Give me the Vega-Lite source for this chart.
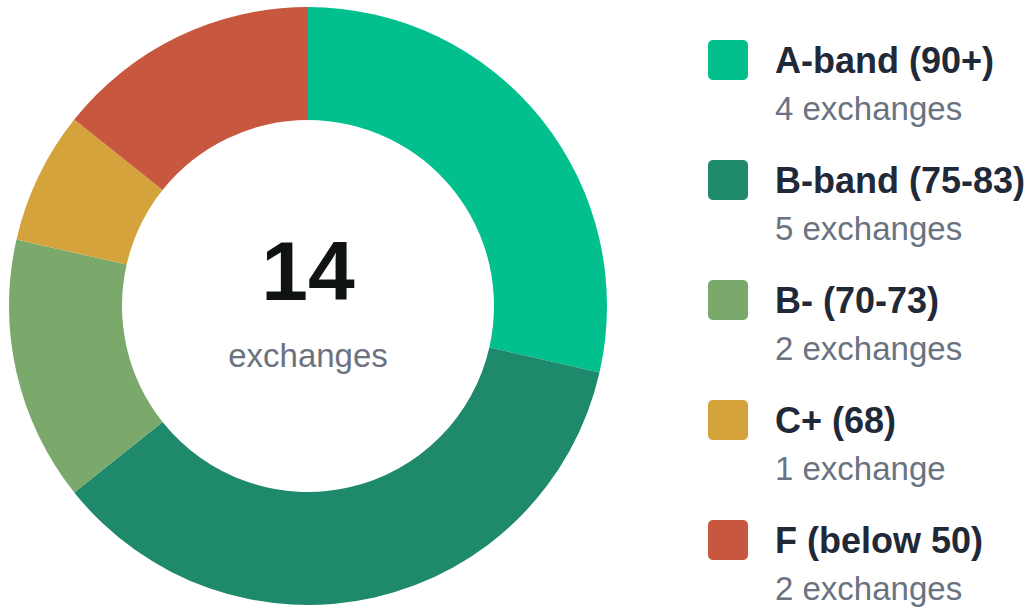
{
  "$schema": "https://vega.github.io/schema/vega-lite/v6.json",
  "padding": 0,
  "background": "white",
  "config": {"view": {"stroke": null}, "font": "Liberation Sans"},
  "datasets": {
    "bands": [
      {"band": "A-band (90+)", "count": 4, "sub": "4 exchanges", "ord": 1},
      {"band": "B-band (75-83)", "count": 5, "sub": "5 exchanges", "ord": 2},
      {"band": "B- (70-73)", "count": 2, "sub": "2 exchanges", "ord": 3},
      {"band": "C+ (68)", "count": 1, "sub": "1 exchange", "ord": 4},
      {"band": "F (below 50)", "count": 2, "sub": "2 exchanges", "ord": 5}
    ]
  },
  "hconcat": [
    {
      "width": 616,
      "height": 612,
      "layer": [
        {
          "data": {"name": "bands"},
          "mark": {"type": "arc", "outerRadius": 299, "innerRadius": 186},
          "encoding": {
            "theta": {"field": "count", "type": "quantitative", "stack": true},
            "order": {"field": "ord", "type": "quantitative", "sort": "ascending"},
            "color": {
              "field": "band",
              "type": "nominal",
              "scale": {
                "domain": ["A-band (90+)", "B-band (75-83)", "B- (70-73)", "C+ (68)", "F (below 50)"],
                "range": ["#02BF8E", "#1F8A6B", "#7BA86B", "#D4A33B", "#C85740"]
              },
              "legend": null
            }
          }
        },
        {
          "data": {"values": [{"total": "14", "unit": "exchanges"}]},
          "mark": {"type": "text", "fontSize": 84, "fontWeight": "bold", "color": "#0F1412", "baseline": "alphabetic", "align": "center", "dy": -6},
          "encoding": {"text": {"field": "total"}}
        },
        {
          "data": {"values": [{"total": "14", "unit": "exchanges"}]},
          "mark": {"type": "text", "fontSize": 33, "color": "#6B7280", "baseline": "alphabetic", "align": "center", "dy": 61},
          "encoding": {"text": {"field": "unit"}}
        }
      ]
    },
    {
      "width": 326,
      "height": 600,
      "data": {"name": "bands"},
      "encoding": {
        "y": {
          "field": "band",
          "type": "nominal",
          "sort": {"field": "ord"},
          "scale": {"type": "band", "paddingInner": 0, "paddingOuter": 0},
          "axis": null
        }
      },
      "layer": [
        {
          "mark": {
            "type": "point",
            "filled": true,
            "opacity": 1,
            "size": 1600,
            "shape": "M -0.75 -1 L 0.75 -1 A 0.25 0.25 0 0 1 1 -0.75 L 1 0.75 A 0.25 0.25 0 0 1 0.75 1 L -0.75 1 A 0.25 0.25 0 0 1 -1 0.75 L -1 -0.75 A 0.25 0.25 0 0 1 -0.75 -1 Z"
          },
          "encoding": {
            "x": {"value": 20},
            "color": {
              "field": "band",
              "type": "nominal",
              "scale": {
                "domain": ["A-band (90+)", "B-band (75-83)", "B- (70-73)", "C+ (68)", "F (below 50)"],
                "range": ["#02BF8E", "#1F8A6B", "#7BA86B", "#D4A33B", "#C85740"]
              },
              "legend": null
            }
          }
        },
        {
          "mark": {"type": "text", "fontSize": 36, "fontWeight": "bold", "color": "#1F2937", "align": "left", "baseline": "alphabetic", "dy": 13},
          "encoding": {"x": {"value": 67}, "text": {"field": "band"}}
        },
        {
          "mark": {"type": "text", "fontSize": 33, "color": "#6B7280", "align": "left", "baseline": "alphabetic", "dy": 60},
          "encoding": {"x": {"value": 67}, "text": {"field": "sub"}}
        }
      ]
    }
  ],
  "spacing": 92
}
